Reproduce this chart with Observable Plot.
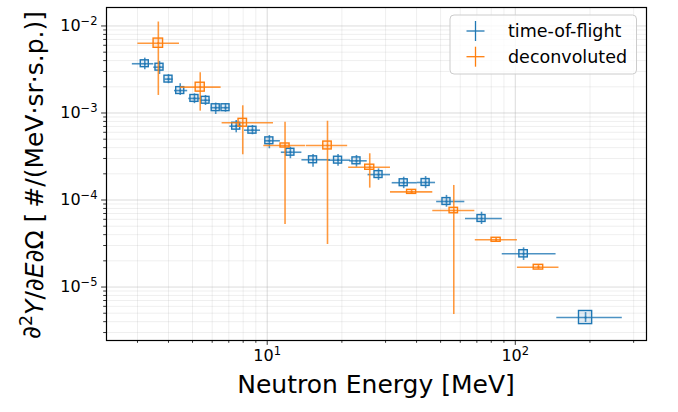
<!DOCTYPE html>
<html>
<head>
<meta charset="utf-8">
<script src="https://cdn.jsdelivr.net/npm/d3@7"></script>
<script src="https://cdn.jsdelivr.net/npm/@observablehq/plot@0.6"></script>
<style>
  html, body { margin: 0; padding: 0; background: white; }
  svg { display: block; }
</style>
</head>
<body>
<div id="chart"></div>
<script>
// ---- time-of-flight series ----
const tofE    = [3.21, 3.68, 4.00, 4.46, 5.09, 5.64, 6.20, 6.79, 7.50, 8.72, 10.2, 12.4, 15.3, 19.3, 22.9, 28.1, 35.5, 43.5, 52.8, 73.1, 108, 192];
const tofElo  = [2.86, 3.49, 3.87, 4.23, 4.83, 5.38, 5.95, 6.52, 7.07, 8.10, 9.78, 11.4, 13.8, 17.7, 21.5, 25.5, 31.9, 40.3, 48.2, 63.0, 88.6, 147];
const tofEhi  = [3.49, 3.83, 4.18, 4.78, 5.38, 5.91, 6.48, 7.07, 7.93, 9.40, 11.3, 13.8, 18.0, 21.7, 25.3, 31.4, 40.3, 47.7, 62.6, 88.6, 146, 270];
const tofY    = [3.68e-3, 3.36e-3, 2.45e-3, 1.81e-3, 1.47e-3, 1.40e-3, 1.15e-3, 1.15e-3, 7.05e-4, 6.34e-4, 4.79e-4, 3.54e-4, 2.90e-4, 2.87e-4, 2.82e-4, 1.96e-4, 1.58e-4, 1.59e-4, 9.61e-5, 6.13e-5, 2.41e-5, 4.46e-6];
const tofYlo  = [3.14e-3, 2.77e-3, 2.17e-3, 1.59e-3, 1.28e-3, 1.22e-3, 9.61e-4, 1.02e-3, 5.92e-4, 5.62e-4, 3.88e-4, 2.98e-4, 2.38e-4, 2.45e-4, 2.38e-4, 1.68e-4, 1.35e-4, 1.35e-4, 8.26e-5, 5.23e-5, 2.02e-5, 3.91e-6];
const tofYhi  = [4.27e-3, 3.91e-3, 2.77e-3, 2.17e-3, 1.66e-3, 1.59e-3, 1.30e-3, 1.28e-3, 8.20e-4, 7.18e-4, 5.51e-4, 4.05e-4, 3.33e-4, 3.33e-4, 3.25e-4, 2.28e-4, 1.83e-4, 1.86e-4, 1.13e-4, 7.24e-5, 2.82e-5, 5.09e-6];
// relative statistical uncertainty (box) in yield and energy
const tofStat  = [0.095, 0.095, 0.095, 0.095, 0.095, 0.095, 0.095, 0.095, 0.095, 0.095, 0.095, 0.095, 0.095, 0.095, 0.095, 0.095, 0.095, 0.095, 0.095, 0.095, 0.10, 0.19];
const tofStatE = [0.038, 0.038, 0.038, 0.038, 0.038, 0.038, 0.038, 0.038, 0.038, 0.038, 0.038, 0.038, 0.038, 0.038, 0.038, 0.038, 0.038, 0.038, 0.038, 0.038, 0.040, 0.063];

// ---- deconvoluted series ----
const decE    = [3.64, 5.37, 7.97, 11.8, 17.5, 25.9, 38.2, 56.5, 83.7, 124];
const decElo  = [3.01, 4.47, 6.58, 9.69, 14.4, 21.3, 31.4, 46.5, 69.0, 102];
const decEhi  = [4.43, 6.52, 10.6, 14.3, 21.1, 31.4, 46.5, 68.7, 102, 150];
const decY    = [6.34e-3, 1.98e-3, 7.72e-4, 4.23e-4, 4.23e-4, 2.38e-4, 1.24e-4, 7.57e-5, 3.49e-5, 1.69e-5];
const decYlo  = [1.59e-3, 1.05e-3, 3.31e-4, 5.23e-5, 3.08e-5, 1.37e-4, 1.17e-4, 4.83e-6, 3.31e-5, 1.60e-5];
const decYhi  = [1.11e-2, 2.90e-3, 1.21e-3, 7.84e-4, 8.04e-4, 3.40e-4, 1.32e-4, 1.47e-4, 3.67e-5, 1.78e-5];
const decStat  = [0.13, 0.125, 0.11, 0.055, 0.11, 0.07, 0.055, 0.075, 0.055, 0.065];
const decStatE = [0.045, 0.043, 0.040, 0.043, 0.040, 0.043, 0.043, 0.040, 0.043, 0.045];

// ---- ticks ----
const xMajor = [10, 100];
const xMinor = [3, 4, 5, 6, 7, 8, 9, 20, 30, 40, 50, 60, 70, 80, 90, 200, 300];
const yMajor = [1e-5, 1e-4, 1e-3, 1e-2];
const yMinor = [3e-6, 4e-6, 5e-6, 6e-6, 7e-6, 8e-6, 9e-6,
                2e-5, 3e-5, 4e-5, 5e-5, 6e-5, 7e-5, 8e-5, 9e-5,
                2e-4, 3e-4, 4e-4, 5e-4, 6e-4, 7e-4, 8e-4, 9e-4,
                2e-3, 3e-3, 4e-3, 5e-3, 6e-3, 7e-3, 8e-3, 9e-3];

const seriesNames = ["time-of-flight", "deconvoluted"];
const blue = "#1f77b4", orange = "#ff7f0e";

const tof = tofE.map((e, i) => ({E: e, Elo: tofElo[i], Ehi: tofEhi[i], Y: tofY[i], Ylo: tofYlo[i], Yhi: tofYhi[i], s: tofStat[i], sE: tofStatE[i]}));
const dec = decE.map((e, i) => ({E: e, Elo: decElo[i], Ehi: decEhi[i], Y: decY[i], Ylo: decYlo[i], Yhi: decYhi[i], s: decStat[i], sE: decStatE[i]}));

const fmt = d => "10^" + Math.round(Math.log10(d));

function seriesMarks(data, color) {
  return [
    Plot.ruleY(data, {y: "Y", x1: "Elo", x2: "Ehi", stroke: color, strokeWidth: 1.6, strokeOpacity: 0.8}),
    Plot.ruleX(data, {x: "E", y1: "Ylo", y2: "Yhi", stroke: color, strokeWidth: 1.6, strokeOpacity: 0.8}),
    Plot.rect(data, {x1: d => d.E / (1 + d.sE), x2: d => d.E * (1 + d.sE),
      y1: d => d.Y / (1 + d.s), y2: d => d.Y * (1 + d.s),
      fill: color, fillOpacity: 0.12, stroke: color, strokeWidth: 1.4}),
    Plot.dot(data, {x: "E", y: "Y", r: 1.1, fill: color, stroke: null})
  ];
}

const chart = Plot.plot({
  width: 678, height: 412,
  marginLeft: 106, marginRight: 32, marginTop: 7, marginBottom: 72,
  style: {fontFamily: "DejaVu Sans", fontSize: "16px", background: "white", color: "black"},
  x: {type: "log", domain: [2.25, 338], label: null},
  y: {type: "log", domain: [2.43e-6, 1.63e-2], label: null},
  marks: [
    Plot.gridX(xMinor, {stroke: "#b0b0b0", strokeOpacity: 0.2, strokeWidth: 1}),
    Plot.gridY(yMinor, {stroke: "#b0b0b0", strokeOpacity: 0.2, strokeWidth: 1}),
    Plot.gridX(xMajor, {stroke: "#b0b0b0", strokeOpacity: 0.45, strokeWidth: 1}),
    Plot.gridY(yMajor, {stroke: "#b0b0b0", strokeOpacity: 0.45, strokeWidth: 1}),
    Plot.axisX(xMinor, {tickSize: 2.8, fill: "none", label: null, strokeWidth: 0.8}),
    Plot.axisX(xMajor, {tickSize: 4.9, tickPadding: 4, tickFormat: fmt, label: null, fontSize: 16, strokeWidth: 0.8}),
    Plot.axisY(yMinor, {tickSize: 2.8, fill: "none", label: null, strokeWidth: 0.8}),
    Plot.axisY(yMajor, {tickSize: 4.9, tickPadding: 4, tickFormat: fmt, label: null, fontSize: 16, strokeWidth: 0.8}),
    ...seriesMarks(tof, blue),
    ...seriesMarks(dec, orange),
    Plot.frame({stroke: "black", strokeWidth: 1.2})
  ]
});

document.getElementById("chart").appendChild(chart);
const svg = d3.select(chart);

// superscript tick labels
svg.selectAll("text").each(function() {
  const t = this.textContent;
  const m = /^10\^(-?\d+)$/.exec(t);
  if (!m) return;
  const sel = d3.select(this);
  sel.selectAll("*").remove();
  sel.text(null);
  sel.append("tspan").text("10");
  sel.append("tspan").attr("dy", "-0.5em").attr("font-size", "0.72em").text(m[1].replace("-", "\u2212"));
});

// axis titles
svg.append("text")
  .attr("x", 376).attr("y", 393)
  .attr("text-anchor", "middle")
  .attr("font-family", "DejaVu Sans").attr("font-size", 25).attr("fill", "black")
  .text("Neutron Energy [MeV]");

const yl = svg.append("text")
  .attr("transform", "translate(40,175) rotate(-90)")
  .attr("text-anchor", "middle")
  .attr("font-family", "DejaVu Sans").attr("font-size", 25).attr("fill", "black");
yl.append("tspan").text("\u2202");
yl.append("tspan").attr("dy", "-0.45em").attr("font-size", "0.7em").text("2");
yl.append("tspan").attr("dy", "0.45em").attr("font-style", "italic").text("Y");
yl.append("tspan").text("/\u2202");
yl.append("tspan").attr("font-style", "italic").text("E");
yl.append("tspan").text("\u2202\u03A9 [\u2009#/(MeV\u00B7sr\u00B7s.p.)]");

// legend
const lg = svg.append("g");
lg.append("rect").attr("x", 450).attr("y", 15).attr("width", 186.5).attr("height", 59)
  .attr("rx", 4).attr("fill", "white").attr("fill-opacity", 0.8)
  .attr("stroke", "#cccccc").attr("stroke-width", 1);
[[blue, 31], [orange, 56.7]].forEach(([c, cy], i) => {
  lg.append("text").attr("x", 508).attr("y", cy).attr("dy", "0.36em")
    .attr("text-anchor", "start")
    .attr("font-family", "DejaVu Sans").attr("font-size", 17.5).attr("fill", "black")
    .text(seriesNames[i]);
  lg.append("line").attr("x1", 466.5).attr("x2", 484.5).attr("y1", cy).attr("y2", cy)
    .attr("stroke", c).attr("stroke-width", 1.3).attr("stroke-opacity", 1);
  lg.append("line").attr("x1", 475.5).attr("x2", 475.5).attr("y1", cy - 10).attr("y2", cy + 10)
    .attr("stroke", c).attr("stroke-width", 1.3).attr("stroke-opacity", 1);
});
</script>
</body>
</html>
